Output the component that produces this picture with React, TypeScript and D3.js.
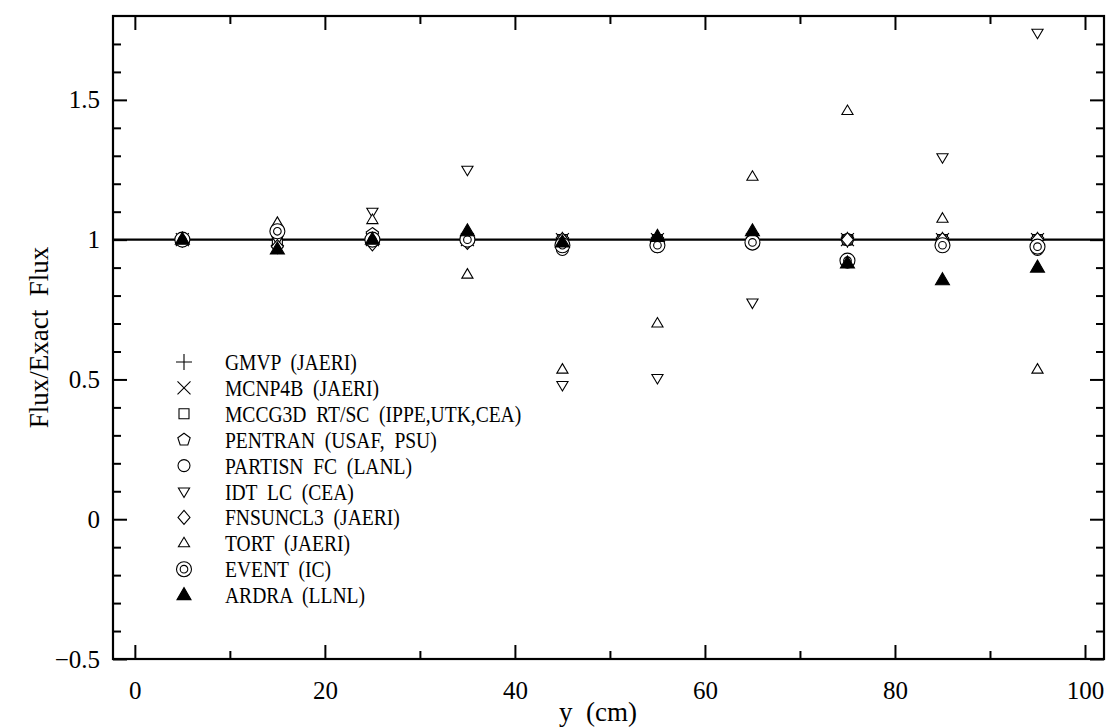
import React, { useEffect, useRef } from "react";
import * as d3 from "d3";

// positions along y (cm)
const yPos = [5, 15, 25, 35, 45, 55, 65, 75, 85, 95];

// Flux / Exact Flux for each code
const gmvp = [1.0, 1.0, 1.0, 1.0, 1.0, 1.0, 1.0, 1.0, 1.0, 1.0];
const mcnp4b = [1.0, 1.0, 1.0, 1.0, 1.0, 1.0, 1.0, 1.0, 1.0, 1.0];
const mccg3d = [1.0, 1.0, 1.0, 1.0, 1.0, 1.0, 1.0, 1.0, 1.0, 1.0];
const pentran = [1.0, 1.02, 1.02, 1.0, 1.0, 1.0, 1.0, 1.0, 1.0, 1.0];
const partisn = [1.0, 1.03, 1.0, 1.0, 0.965, 0.975, 0.985, 1.0, 0.985, 0.965];
const idt = [1.0, 1.0, 1.1, 1.25, 0.48, 0.505, 0.775, 1.0, 1.295, 1.74];
const fnsuncl3 = [1.0, 0.975, 0.985, 0.99, 1.0, 0.99, 1.0, 1.0, 1.0, 1.0];
const tort = [1.0, 1.06, 1.07, 0.875, 0.535, 0.7, 1.225, 1.46, 1.075, 0.535];
const eventIC = [1.0, 1.03, 1.0, 1.0, 0.98, 0.98, 0.99, 0.925, 0.98, 0.975];
const ardra = [1.0, 0.965, 1.0, 1.03, 0.99, 1.01, 1.03, 0.915, 0.855, 0.9];

const seriesNames = [
  "GMVP  (JAERI)",
  "MCNP4B  (JAERI)",
  "MCCG3D  RT/SC  (IPPE,UTK,CEA)",
  "PENTRAN  (USAF,  PSU)",
  "PARTISN  FC  (LANL)",
  "IDT  LC  (CEA)",
  "FNSUNCL3  (JAERI)",
  "TORT  (JAERI)",
  "EVENT  (IC)",
  "ARDRA  (LLNL)",
];
const seriesShapes = ["plus", "cross", "square", "pentagon", "circle", "triDown", "diamond", "triUp", "dblCircle", "triFilled"];
const seriesValues = [gmvp, mcnp4b, mccg3d, pentran, partisn, idt, fnsuncl3, tort, eventIC, ardra];

const xMajorTicks = [0, 20, 40, 60, 80, 100];
const xMinorTicks = [10, 30, 50, 70, 90];
const yMajorTicks = [-0.5, 0, 0.5, 1, 1.5];
const yTickLabels = ["\u22120.5", "0", "0.5", "1", "1.5"];
const yMinorTicks = [-0.4, -0.3, -0.2, -0.1, 0.1, 0.2, 0.3, 0.4, 0.6, 0.7, 0.8, 0.9, 1.1, 1.2, 1.3, 1.4, 1.6, 1.7];

const FONT = "'Liberation Serif', 'Times New Roman', serif";

const markerPath = (shape: string, cx: number, cy: number) => {
  const p = d3.path();
  if (shape === "plus") {
    p.moveTo(cx - 8, cy); p.lineTo(cx + 8, cy);
    p.moveTo(cx, cy - 8); p.lineTo(cx, cy + 8);
  } else if (shape === "cross") {
    p.moveTo(cx - 6.5, cy - 6.5); p.lineTo(cx + 6.5, cy + 6.5);
    p.moveTo(cx - 6.5, cy + 6.5); p.lineTo(cx + 6.5, cy - 6.5);
  } else if (shape === "square") {
    p.rect(cx - 5, cy - 5, 10, 10);
  } else if (shape === "pentagon") {
    for (let k = 0; k < 5; k++) {
      const a = -Math.PI / 2 + (k * 2 * Math.PI) / 5;
      const px = cx + 6.5 * Math.cos(a), py = cy + 6.5 * Math.sin(a);
      if (k === 0) p.moveTo(px, py); else p.lineTo(px, py);
    }
    p.closePath();
  } else if (shape === "circle") {
    p.moveTo(cx + 6, cy); p.arc(cx, cy, 6, 0, 2 * Math.PI);
  } else if (shape === "dblCircle") {
    p.moveTo(cx + 7.5, cy); p.arc(cx, cy, 7.5, 0, 2 * Math.PI);
    p.moveTo(cx + 3.8, cy); p.arc(cx, cy, 3.8, 0, 2 * Math.PI);
  } else if (shape === "triDown") {
    p.moveTo(cx, cy + 6); p.lineTo(cx + 5.6, cy - 3.5); p.lineTo(cx - 5.6, cy - 3.5); p.closePath();
  } else if (shape === "triUp") {
    p.moveTo(cx, cy - 6); p.lineTo(cx + 5.6, cy + 3.5); p.lineTo(cx - 5.6, cy + 3.5); p.closePath();
  } else if (shape === "triFilled") {
    p.moveTo(cx, cy - 7.5); p.lineTo(cx + 7, cy + 4.5); p.lineTo(cx - 7, cy + 4.5); p.closePath();
  } else if (shape === "diamond") {
    p.moveTo(cx, cy - 7); p.lineTo(cx + 6, cy); p.lineTo(cx, cy + 7); p.lineTo(cx - 6, cy); p.closePath();
  }
  return p.toString();
};

const App = () => {
  const ref = useRef<SVGSVGElement | null>(null);

  useEffect(() => {
    const width = 1109;
    const height = 727;
    const left = 113, right = 1104, top = 16, bottom = 659;

    const x = d3.scaleLinear().domain([-2.3, 102]).range([left, right]);
    const y = d3.scaleLinear().domain([-0.5, 1.8]).range([bottom, top]);

    const svg = d3.select(ref.current).attr("width", width).attr("height", height);
    svg.selectAll("*").remove();

    // reference line at 1
    svg.append("line")
      .attr("x1", left).attr("x2", right)
      .attr("y1", y(1)).attr("y2", y(1))
      .attr("stroke", "#000").attr("stroke-width", 2.2);

    // ticks on all four sides
    const tickStyle = (g: any) => {
      g.select(".domain").remove();
      g.selectAll("line").attr("stroke", "#000").attr("stroke-width", 2);
    };
    svg.append("g").attr("transform", `translate(0,${bottom})`)
      .call(d3.axisBottom(x).tickValues(xMajorTicks).tickSize(-14).tickPadding(22).tickFormat((d: any) => String(d)))
      .call(tickStyle)
      .selectAll("text").attr("font-family", FONT).attr("font-size", 25).attr("fill", "#000");
    svg.append("g").attr("transform", `translate(0,${bottom})`)
      .call(d3.axisBottom(x).tickValues(xMinorTicks).tickSize(-8).tickFormat(() => ""))
      .call(tickStyle);
    svg.append("g").attr("transform", `translate(0,${top})`)
      .call(d3.axisTop(x).tickValues(xMajorTicks).tickSize(-14).tickFormat(() => ""))
      .call(tickStyle);
    svg.append("g").attr("transform", `translate(0,${top})`)
      .call(d3.axisTop(x).tickValues(xMinorTicks).tickSize(-8).tickFormat(() => ""))
      .call(tickStyle);

    svg.append("g").attr("transform", `translate(${left},0)`)
      .call(d3.axisLeft(y).tickValues(yMajorTicks).tickSize(-14).tickPadding(13)
        .tickFormat((d: any) => yTickLabels[yMajorTicks.indexOf(d)]))
      .call(tickStyle)
      .selectAll("text").attr("font-family", FONT).attr("font-size", 25).attr("fill", "#000");
    svg.append("g").attr("transform", `translate(${left},0)`)
      .call(d3.axisLeft(y).tickValues(yMinorTicks).tickSize(-8).tickFormat(() => ""))
      .call(tickStyle);
    svg.append("g").attr("transform", `translate(${right},0)`)
      .call(d3.axisRight(y).tickValues(yMajorTicks).tickSize(-14).tickFormat(() => ""))
      .call(tickStyle);
    svg.append("g").attr("transform", `translate(${right},0)`)
      .call(d3.axisRight(y).tickValues(yMinorTicks).tickSize(-8).tickFormat(() => ""))
      .call(tickStyle);

    // frame
    svg.append("rect")
      .attr("x", left).attr("y", top)
      .attr("width", right - left).attr("height", bottom - top)
      .attr("fill", "none").attr("stroke", "#000").attr("stroke-width", 2.2);

    // markers
    seriesValues.forEach((vals, i) => {
      const shape = seriesShapes[i];
      svg.append("g").selectAll("path")
        .data(vals)
        .enter()
        .append("path")
        .attr("d", (v, j) => markerPath(shape, x(yPos[j]), y(v)))
        .attr("fill", shape === "triFilled" ? "#000" : (shape === "plus" || shape === "cross") ? "none" : "#fff")
        .attr("stroke", "#000")
        .attr("stroke-width", 1.1);
    });

    // legend (text slightly condensed like the original typesetting)
    const legend = svg.append("g");
    seriesNames.forEach((name, i) => {
      const ly = 362 + i * 25.9;
      legend.append("path")
        .attr("d", markerPath(seriesShapes[i], 184, ly))
        .attr("fill", seriesShapes[i] === "triFilled" ? "#000" : "none")
        .attr("stroke", "#000").attr("stroke-width", 1.1);
      legend.append("text")
        .attr("transform", `translate(225,${ly}) scale(0.85,1)`)
        .attr("dy", "0.35em")
        .attr("font-family", FONT).attr("font-size", 23)
        .style("white-space", "pre")
        .text(name);
    });

    // axis titles
    svg.append("text")
      .attr("x", 598).attr("y", 721)
      .attr("text-anchor", "middle")
      .attr("font-family", FONT).attr("font-size", 27)
      .style("white-space", "pre")
      .text("y  (cm)");
    svg.append("text")
      .attr("transform", `translate(48,${(top + bottom) / 2}) rotate(-90)`)
      .attr("text-anchor", "middle")
      .attr("font-family", FONT).attr("font-size", 27)
      .style("white-space", "pre")
      .text("Flux/Exact  Flux");
  }, []);

  return (
    <svg ref={ref} style={{ position: "absolute", left: 0, top: 0, background: "#fff" }} />
  );
};

export default App;
